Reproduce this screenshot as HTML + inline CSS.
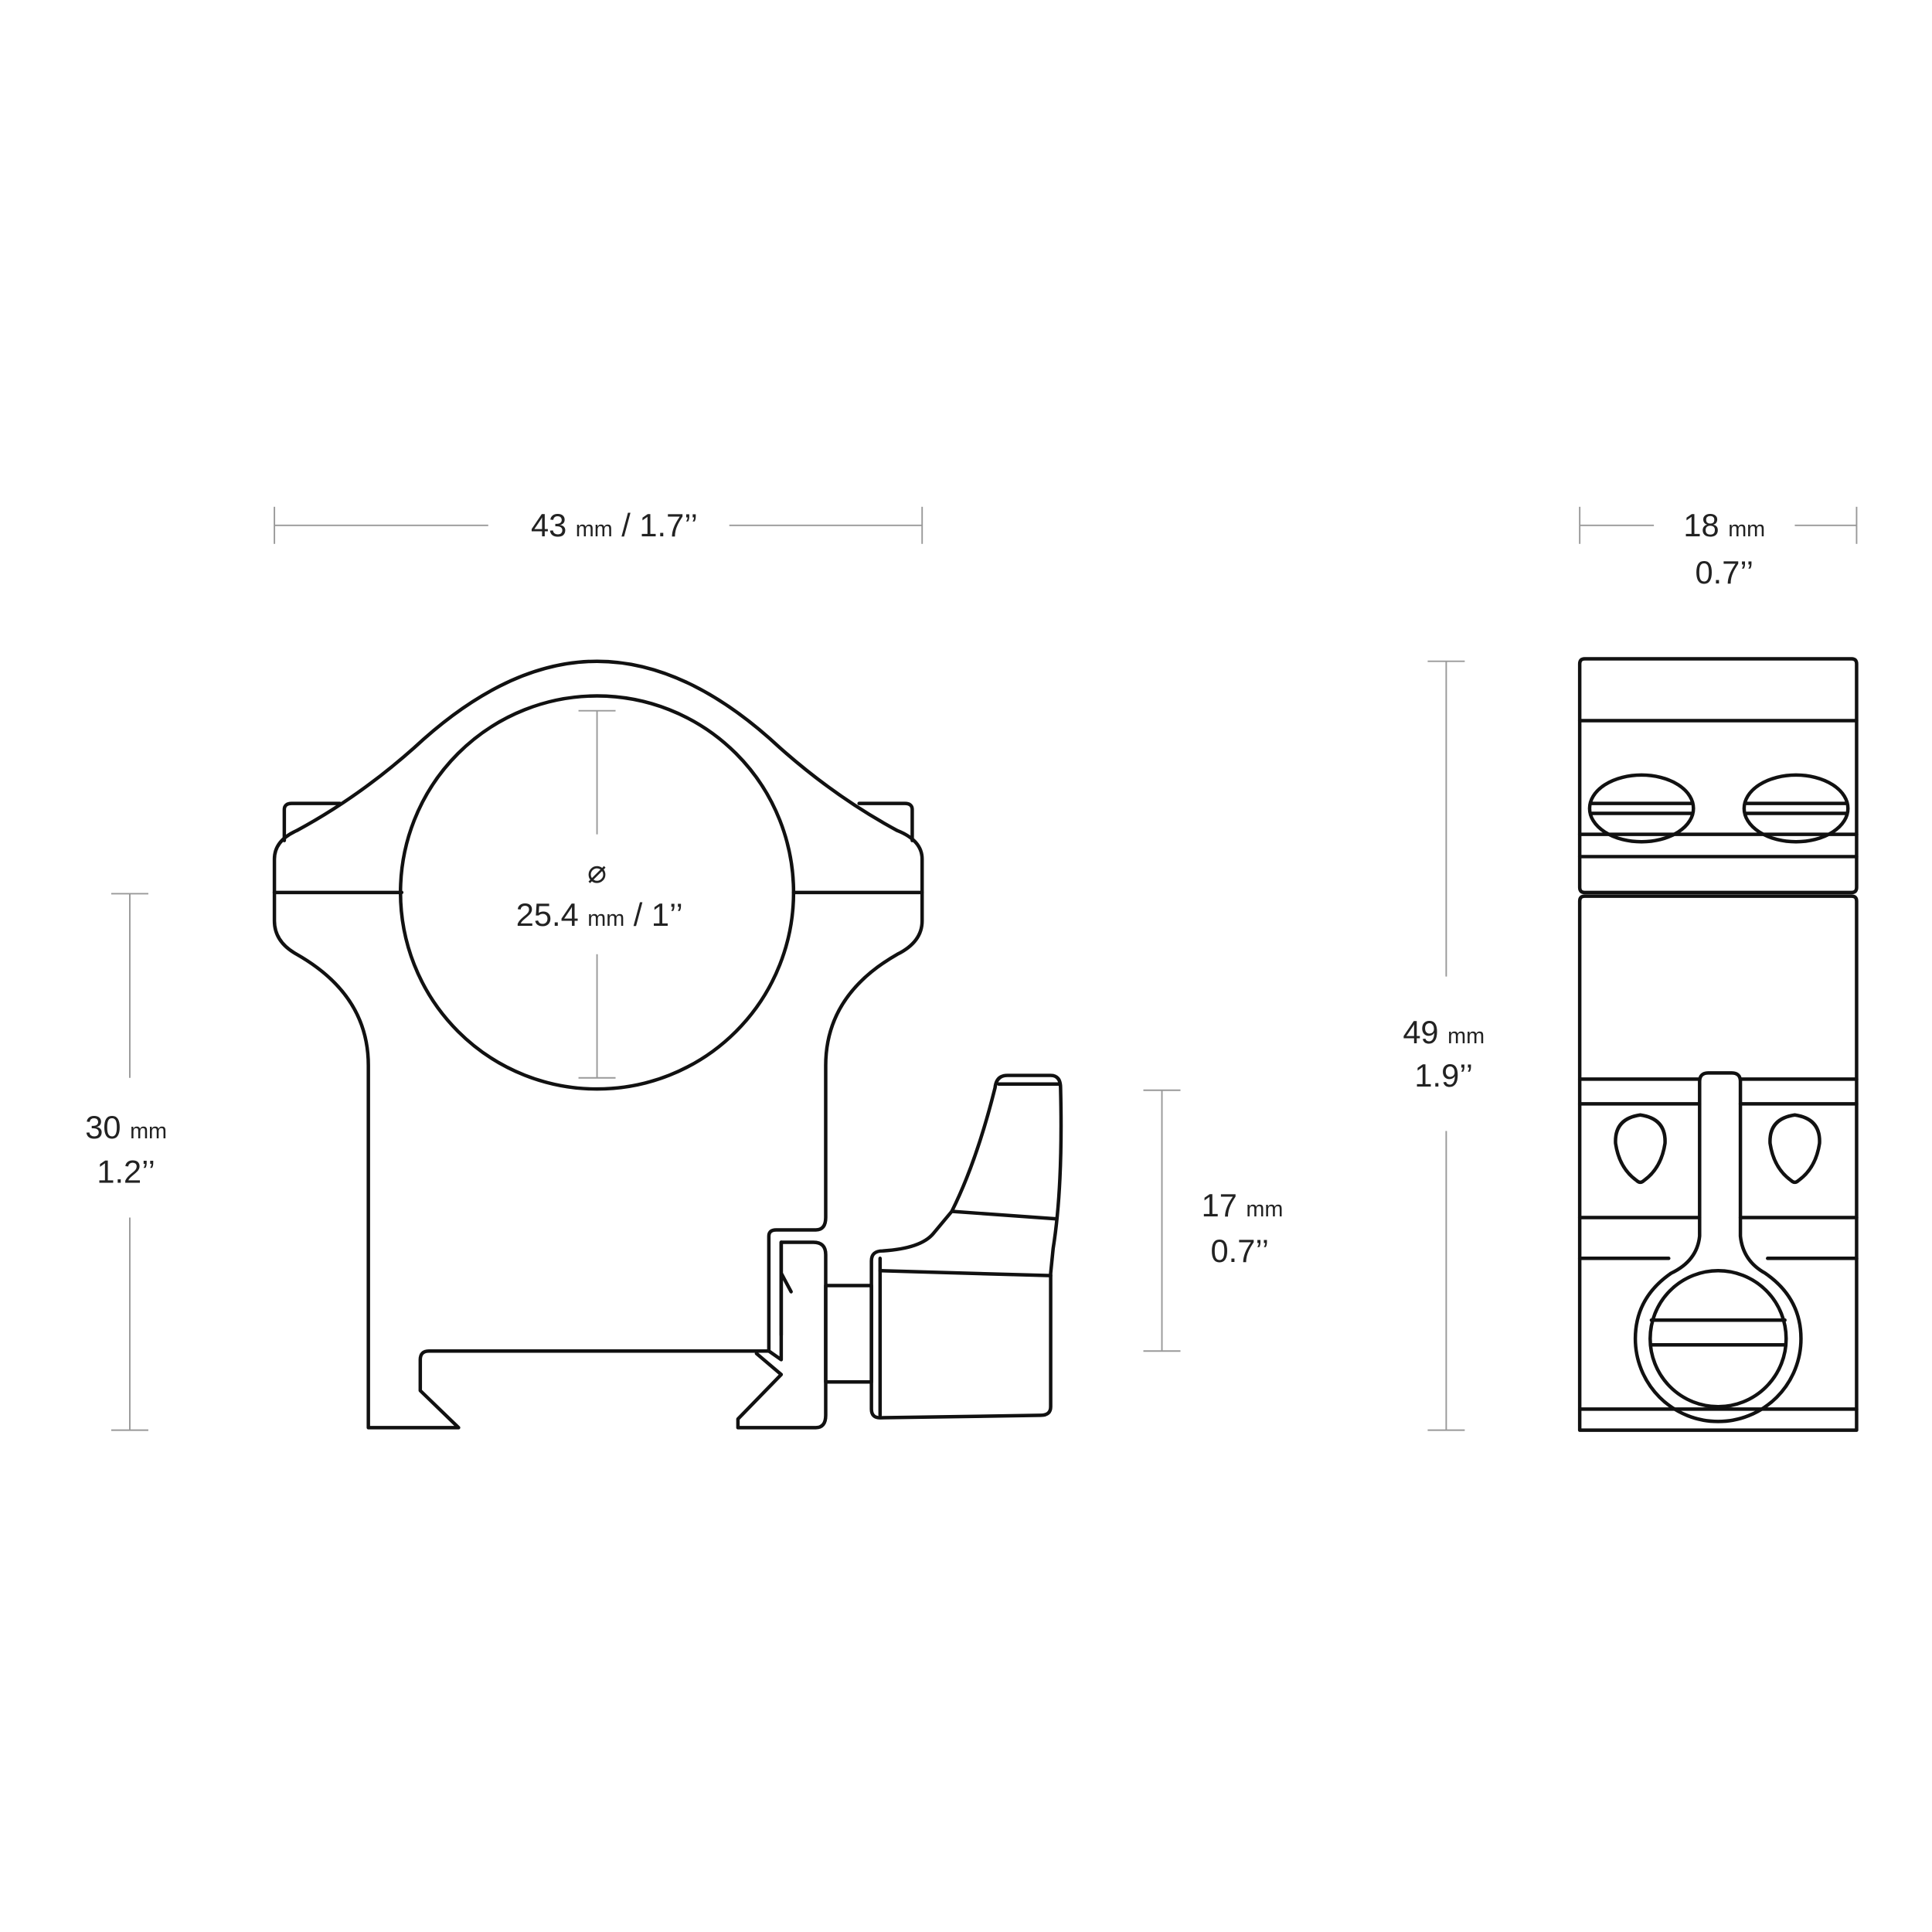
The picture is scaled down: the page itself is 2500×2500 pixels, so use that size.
<!DOCTYPE html>
<html><head><meta charset="utf-8"><style>
html,body{margin:0;padding:0;background:#fff;}
svg{display:block;}
text{font-family:"Liberation Sans",sans-serif;fill:#222;}
</style></head><body>
<svg width="2500" height="2500" viewBox="0 0 1563 1563" xmlns="http://www.w3.org/2000/svg">
<g stroke="#999" stroke-width="1.2" fill="none">
<line x1="222" y1="425" x2="395" y2="425"/><line x1="590" y1="425" x2="746" y2="425"/>
<line x1="222" y1="410" x2="222" y2="440"/><line x1="746" y1="410" x2="746" y2="440"/>
<line x1="1278" y1="425" x2="1338" y2="425"/><line x1="1452" y1="425" x2="1502" y2="425"/>
<line x1="1278" y1="410" x2="1278" y2="440"/><line x1="1502" y1="410" x2="1502" y2="440"/>
<line x1="105" y1="723" x2="105" y2="872"/><line x1="105" y1="985" x2="105" y2="1157"/>
<line x1="90" y1="723" x2="120" y2="723"/><line x1="90" y1="1157" x2="120" y2="1157"/>
<line x1="940" y1="882" x2="940" y2="1093"/>
<line x1="925" y1="882" x2="955" y2="882"/><line x1="925" y1="1093" x2="955" y2="1093"/>
<line x1="1170" y1="535" x2="1170" y2="790"/><line x1="1170" y1="915" x2="1170" y2="1157"/>
<line x1="1155" y1="535" x2="1185" y2="535"/><line x1="1155" y1="1157" x2="1185" y2="1157"/>
<line x1="483" y1="575" x2="483" y2="675"/><line x1="483" y1="772" x2="483" y2="872"/>
<line x1="468" y1="575" x2="498" y2="575"/><line x1="468" y1="872" x2="498" y2="872"/>
</g>
<g font-size="26" text-anchor="middle">
<text x="497" y="434">43 <tspan font-size="18">mm</tspan> / 1.7’’</text>
<text x="1395" y="434">18 <tspan font-size="18">mm</tspan></text>
<text x="1395" y="472">0.7’’</text>
<text x="102" y="921">30 <tspan font-size="18">mm</tspan></text>
<text x="102" y="957">1.2’’</text>
<text x="1005" y="984">17 <tspan font-size="18">mm</tspan></text>
<text x="1003" y="1021">0.7’’</text>
<text x="1168" y="844">49 <tspan font-size="18">mm</tspan></text>
<text x="1168" y="879">1.9’’</text>
<text x="483" y="714">⌀</text>
<text x="485" y="749">25.4 <tspan font-size="18">mm</tspan> / 1’’</text>
</g>
<g stroke="#111" stroke-width="2.8" fill="none" stroke-linejoin="round" stroke-linecap="round">
<!-- left view -->
<circle cx="483" cy="722" r="159"/>
<path d="M230,680 V655 Q230,650 236,650 H275"/>
<path d="M738,680 V655 Q738,650 732,650 H695"/>
<path d="M222,722 V695 Q222,680 240,672 Q290,645 335,605 Q410,535 483,535 Q556,535 631,605 Q676,645 726,672 Q746,680 746,695 V722"/>
<line x1="222" y1="722" x2="325" y2="722"/><line x1="642" y1="722" x2="746" y2="722"/>
<path d="M222,722 V745 Q222,762 240,772 Q298,805 298,862 V1155 H371 L340,1125 V1100 Q340,1093 347,1093 H622 V1000 Q622,995 628,995 H660 Q668,995 668,985 V862 Q668,805 726,772 Q746,762 746,745 V722"/>
<path d="M612,1095 L632,1112 L597,1148 V1155 H660 Q668,1155 668,1145 V1015 Q668,1005 658,1005 H632 V1100 L622,1093"/>
<path d="M632,1030 L640,1045 M632,1005 V1080"/>
<rect x="668" y="1040" width="37" height="78"/>
<path d="M705,1020 Q705,1012 714,1012 Q745,1010 755,998 L770,980 Q790,940 805,880 Q806,870 815,870 H850 Q858,870 858,880 Q860,960 852,1010 L850,1030 V1138 Q850,1145 842,1145 L712,1147 Q705,1147 705,1140 Z"/>
<line x1="712" y1="1028" x2="850" y2="1032"/>
<line x1="770" y1="980" x2="854" y2="986"/>
<line x1="808" y1="877" x2="857" y2="877"/>
<line x1="712" y1="1018" x2="712" y2="1145"/>
<!-- right view -->
<path d="M1282,533 H1498 Q1502,533 1502,537 V718 Q1502,722 1498,722 H1282 Q1278,722 1278,718 V537 Q1278,533 1282,533 Z"/>
<path d="M1282,725 H1498 Q1502,725 1502,729 V1157 H1278 V729 Q1278,725 1282,725 Z"/>
<line x1="1278" y1="583" x2="1502" y2="583"/>
<line x1="1278" y1="675" x2="1502" y2="675"/>
<line x1="1278" y1="693" x2="1502" y2="693"/>
<line x1="1278" y1="873" x2="1375" y2="873"/><line x1="1408" y1="873" x2="1502" y2="873"/>
<line x1="1278" y1="893" x2="1375" y2="893"/><line x1="1408" y1="893" x2="1502" y2="893"/>
<line x1="1278" y1="985" x2="1375" y2="985"/><line x1="1408" y1="985" x2="1502" y2="985"/>
<line x1="1278" y1="1018" x2="1350" y2="1018"/><line x1="1430" y1="1018" x2="1502" y2="1018"/>
<line x1="1278" y1="1140" x2="1502" y2="1140"/>
<ellipse cx="1328" cy="654" rx="42" ry="27"/>
<ellipse cx="1453" cy="654" rx="42" ry="27"/>
<line x1="1288" y1="650" x2="1368" y2="650"/><line x1="1288" y1="658" x2="1368" y2="658"/>
<line x1="1413" y1="650" x2="1493" y2="650"/><line x1="1413" y1="658" x2="1493" y2="658"/>
<path d="M1327,902 Q1348,905 1347,925 Q1344,945 1330,955 Q1327,958 1324,955 Q1310,945 1307,925 Q1306,905 1327,902 Z"/>
<path d="M1452,902 Q1473,905 1472,925 Q1469,945 1455,955 Q1452,958 1449,955 Q1435,945 1432,925 Q1431,905 1452,902 Z"/>
<path d="M1375,1000 V875 Q1375,868 1382,868 H1401 Q1408,868 1408,875 V1000 Q1410,1020 1428,1030 Q1457,1050 1457,1083 A67,67 0 0 1 1323,1083 Q1323,1050 1352,1030 Q1373,1020 1375,1000 Z"/>
<circle cx="1390" cy="1083" r="55"/>
<line x1="1336" y1="1068" x2="1444" y2="1068"/>
<line x1="1336" y1="1088" x2="1444" y2="1088"/>
</g>
</svg>
</body></html>
